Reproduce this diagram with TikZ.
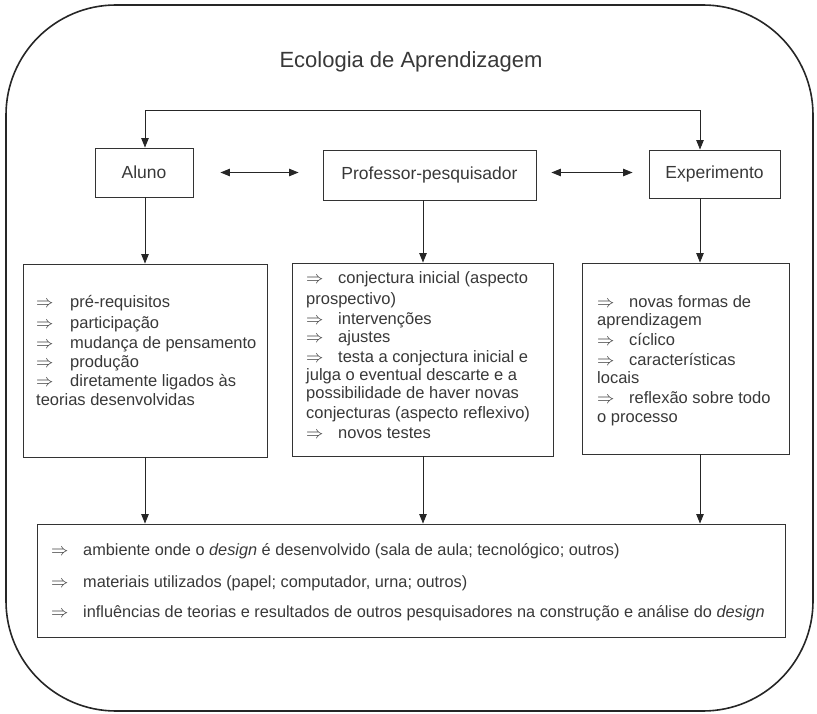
\documentclass[tikz,border=0pt]{standalone}
\usepackage{fontspec}
\setmainfont{Liberation Sans}
\usetikzlibrary{arrows.meta}
\newcommand\implarrow[1]{\makebox[#1][l]{$\Rightarrow$}}
\begin{document}
\begin{tikzpicture}[x=1pt,y=-1pt,
  outer/.style={draw=black!85,line width=1.6pt,rounded corners=110pt},
  lbl/.style={draw=black!80,line width=0.9pt,inner sep=0pt,font=\fontsize{17.5}{20}\selectfont,text=black!78},
  det/.style={draw=black!80,line width=0.9pt,inner sep=0pt},
  txt/.style={inner sep=0pt,anchor=base west,font=\fontsize{16.5}{19.5}\selectfont,text=black!78},
  btxt/.style={txt,font=\fontsize{16.3}{19.5}\selectfont},
  arr/.style={-{Triangle[length=9.5pt,width=7.5pt]},line width=0.9pt,draw=black!85},
  dbl/.style={{Triangle[length=9.5pt,width=7.5pt]}-{Triangle[length=9.5pt,width=7.5pt]},line width=0.9pt,draw=black!85}]
\useasboundingbox (0,0) rectangle (817,714);
\draw[outer] (6,5) rectangle (813,711);
\node[font=\fontsize{22}{26}\selectfont,text=black!78] (title) at (411,62) {Ecologia de Aprendizagem};
% label boxes
\node[lbl,minimum width=98pt,minimum height=49pt] (aluno) at (144,172.5) {Aluno};
\node[lbl,minimum width=213pt,minimum height=50pt] (prof) at (429.5,175) {Professor-pesquisador};
\node[lbl,minimum width=131pt,minimum height=48pt] (exp) at (714.5,174) {Experimento};
% detail boxes
\node[det,minimum width=244pt,minimum height=193pt] (alunoD) at (145,360.5) {};
\node[det,minimum width=261pt,minimum height=193pt] (profD) at (422.5,359.5) {};
\node[det,minimum width=207pt,minimum height=191pt] (expD) at (685.5,358.5) {};
\node[det,minimum width=748pt,minimum height=113pt] (amb) at (411,580.5) {};
% helper coordinates
\coordinate (top) at (0,110);
\coordinate (cl) at (145,0);
\coordinate (cm) at (423,0);
\coordinate (cr) at (700,0);
% connectors
\draw[dbl] (aluno.north -| cl) -- (cl |- top) -- (cr |- top) -- (exp.north -| cr);
\draw[dbl] ([xshift=27pt]aluno.east) -- ([xshift=-24pt]prof.west |- aluno.east);
\draw[dbl] ([xshift=15pt]prof.east |- aluno.east) -- ([xshift=-16pt]exp.west |- aluno.east);
\draw[arr] (aluno.south -| cl) -- (alunoD.north -| cl);
\draw[arr] (prof.south -| cm) -- (profD.north -| cm);
\draw[arr] (exp.south -| cr) -- (expD.north -| cr);
\draw[arr] (alunoD.south -| cl) -- (amb.north -| cl);
\draw[arr] (profD.south -| cm) -- (amb.north -| cm);
\draw[arr] (expD.south -| cr) -- (amb.north -| cr);
% texts
\foreach \y/\t [count=\i] in {
  308/{\implarrow{34pt}pré-requisitos},
  328/{\implarrow{34pt}participação},
  348/{\implarrow{34pt}mudança de pensamento},
  367/{\implarrow{34pt}produção},
  386/{\implarrow{34pt}diretamente ligados às},
  405/{teorias desenvolvidas}}
  \node[txt] (la\i) at (36,\y) {\t};
\foreach \y/\t [count=\i] in {
  283.5/{\implarrow{32pt}conjectura inicial (aspecto},
  304.5/{prospectivo)},
  324.5/{\implarrow{32pt}intervenções},
  342.5/{\implarrow{32pt}ajustes},
  362/{\implarrow{32pt}testa a conjectura inicial e},
  380/{julga o eventual descarte e a},
  398/{possibilidade de haver novas},
  418/{conjecturas (aspecto reflexivo)},
  438/{\implarrow{32pt}novos testes}}
  \node[txt] (lp\i) at (306,\y) {\t};
\foreach \y/\t [count=\i] in {
  307/{\implarrow{32pt}novas formas de},
  325/{aprendizagem},
  345/{\implarrow{32pt}cíclico},
  365/{\implarrow{32pt}características},
  383/{locais},
  403/{\implarrow{32pt}reflexão sobre todo},
  422/{o processo}}
  \node[txt] (le\i) at (597,\y) {\t};
\foreach \y/\t [count=\i] in {
  555/{\implarrow{32pt}ambiente onde o \textit{design} é desenvolvido (sala de aula; tecnológico; outros)},
  587/{\implarrow{32pt}materiais utilizados (papel; computador{,} urna; outros)},
  617/{\implarrow{32pt}influências de teorias e resultados de outros pesquisadores na construção e análise do \textit{design}}}
  \node[btxt] (lb\i) at (51,\y) {\t};
\end{tikzpicture}
\end{document}
